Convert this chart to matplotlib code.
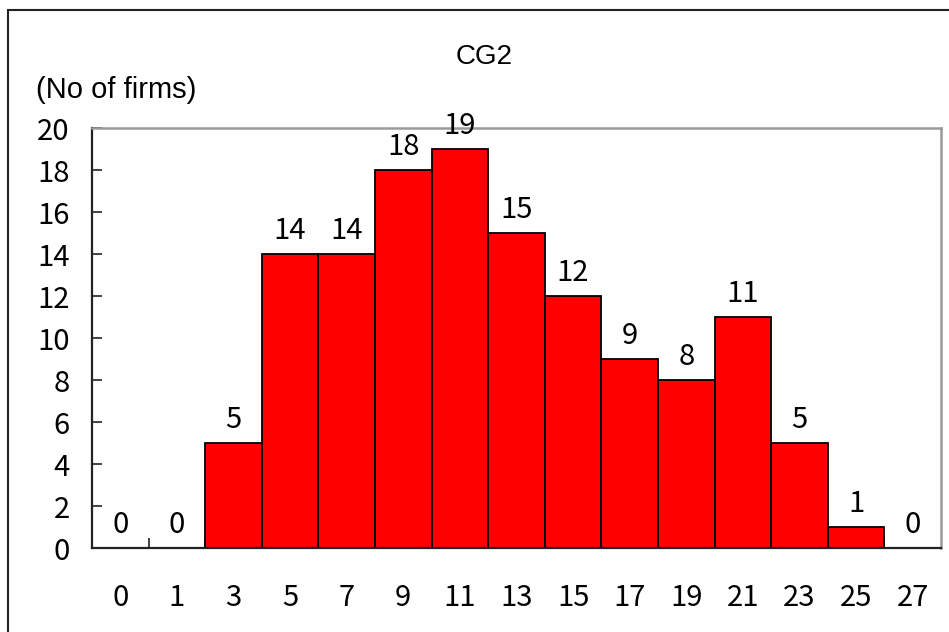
import matplotlib.pyplot as plt
from matplotlib.patches import Rectangle

# data
categories = ["0", "1", "3", "5", "7", "9", "11", "13", "15", "17", "19", "21", "23", "25", "27"]
firms = [0, 0, 5, 14, 14, 18, 19, 15, 12, 9, 8, 11, 5, 1, 0]
y_ticks = [0, 2, 4, 6, 8, 10, 12, 14, 16, 18, 20]

num_font = ["Noto Sans CJK JP", "DejaVu Sans"]
txt_font = ["Liberation Sans", "DejaVu Sans"]

fig = plt.figure(figsize=(9.49, 6.32), dpi=100)
ax = fig.add_axes([92 / 949, 1 - 548 / 632, (941 - 92) / 949, (548 - 128) / 632])

pos = list(range(len(categories)))
bars = ax.bar(pos, firms, width=1.0, color="#ff0000", edgecolor="black", linewidth=1.3, zorder=2)

# value labels above each bar
for bar, v in zip(bars, firms):
    ax.annotate(str(v), (bar.get_x() + bar.get_width() / 2, v),
                xytext=(0, 6), textcoords="offset points",
                ha="center", va="bottom", fontsize=21, family=num_font)

ax.set_xlim(-0.5, len(categories) - 0.5)
ax.set_ylim(0, 20)

ax.set_xticks(pos)
ax.set_xticklabels(categories, fontsize=21, family=num_font)
ax.set_xticks([p + 0.5 for p in pos[:-1]], minor=True)
ax.tick_params(axis="x", which="major", length=0, pad=25)
ax.tick_params(axis="x", which="minor", direction="in", length=7, width=1.2, color="#222222")

ax.set_yticks(y_ticks)
ax.set_yticklabels([str(t) for t in y_ticks], fontsize=21, family=num_font)
ax.tick_params(axis="y", direction="in", length=7, width=1.2, color="#222222", pad=16)

for side in ["left", "bottom"]:
    ax.spines[side].set_color("#222222")
    ax.spines[side].set_linewidth(1.6)
for side in ["top", "right"]:
    ax.spines[side].set_color("#9a9a9a")
    ax.spines[side].set_linewidth(1.8)

fig.text(484 / 949, 1 - 57 / 632, "CG2", ha="center", va="center", fontsize=20, family=txt_font)
fig.text(36 / 949, 1 - 90 / 632, "(No of firms)", ha="left", va="center", fontsize=21, family=txt_font)

# outer chart frame (cut off at right and bottom)
fig.patches.append(Rectangle((8 / 949, -0.1), 1.2, 1.1 - 10 / 632, transform=fig.transFigure,
                             fill=False, edgecolor="#222222", linewidth=1.5))

fig.savefig("out.png", dpi=100)
